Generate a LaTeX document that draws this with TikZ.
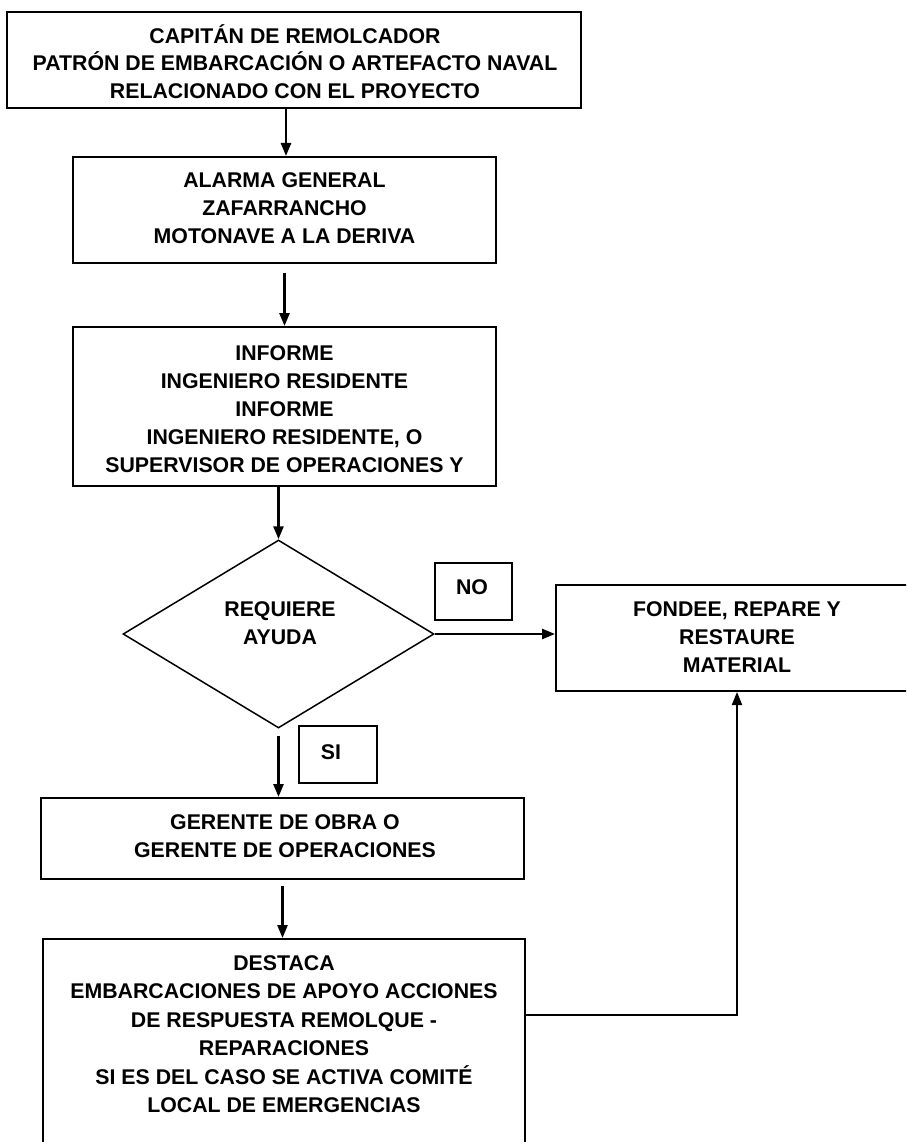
\documentclass[tikz,border=0pt]{standalone}
\usepackage{fontspec}
\setmainfont{Liberation Sans}
\usetikzlibrary{shapes.geometric,arrows.meta}
\tikzset{
  box/.style={draw=black,line width=2pt,rectangle,inner sep=0pt},
  tag/.style={draw=black,line width=1.8pt,rectangle,inner sep=0pt,minimum width=77pt,minimum height=57pt},
  txt/.style={align=center,inner sep=0pt,font=\bfseries\fontsize{21.3}{28}\selectfont},
  arr/.style={line width=2.6pt,-{Triangle[length=13pt,width=10pt]}},
  fline/.style={line width=2pt,-{Triangle[length=13pt,width=10pt]}}
}
\begin{document}
\begin{tikzpicture}[x=1pt,y=-1pt]
\path[use as bounding box,clip] (0,0) rectangle (906,1142);
\fill[white] (0,0) rectangle (906,1142);
% boxes
\node[box,minimum width=574pt,minimum height=96pt] (b1) at (294,60) {};
\node[txt,font=\bfseries\fontsize{21.3}{27.5}\selectfont] (t1) at (295,61.5) {CAPITÁN DE REMOLCADOR\\PATRÓN DE EMBARCACIÓN O ARTEFACTO NAVAL\\RELACIONADO CON EL PROYECTO};
\node[box,minimum width=423pt,minimum height=106pt] (b2) at (284.5,210) {};
\node[txt] (t2) at (284.5,208) {ALARMA GENERAL\\ZAFARRANCHO\\MOTONAVE A LA DERIVA};
\node[box,minimum width=423pt,minimum height=159pt] (b3) at (284.5,406.5) {};
\node[txt] (t3) at (284.5,409) {INFORME\\INGENIERO RESIDENTE\\INFORME\\INGENIERO RESIDENTE, O\\SUPERVISOR DE OPERACIONES Y};
\node[draw=black,line width=1.5pt,diamond,minimum width=311pt,minimum height=188pt,inner sep=0pt] (dia) at (278.5,634) {};
\node[txt] (td) at (280,623.5) {REQUIERE\\AYUDA};
\node[tag] (no) at (473.5,591.5) {};
\node[txt] (tno) at (472,587) {NO};
\node[box,minimum width=362pt,minimum height=106pt] (fon) at (737,638) {};
\node[txt] (tfon) at (737,637) {FONDEE, REPARE Y\\RESTAURE\\MATERIAL};
\node[tag,minimum width=78pt] (si) at (338,754.5) {};
\node[txt] (tsi) at (331,752) {SI};
\node[box,minimum width=483pt,minimum height=81pt] (ger) at (282.5,838.5) {};
\node[txt] (tger) at (285,836.5) {GERENTE DE OBRA O\\GERENTE DE OPERACIONES};
\node[box,minimum width=482pt,minimum height=220pt] (des) at (284,1049) {};
\node[txt,font=\bfseries\fontsize{21.3}{28.5}\selectfont] (tdes) at (284,1034) {DESTACA\\EMBARCACIONES DE APOYO ACCIONES\\DE RESPUESTA REMOLQUE -\\REPARACIONES\\SI ES DEL CASO SE ACTIVA COMITÉ\\LOCAL DE EMERGENCIAS};
% connectors
\draw[arr] (b1.south -| 286,0) -- (b2.north -| 286,0);
\draw[arr] ([yshift=-9pt]b2.south) -- (b3.north);
\draw[arr] (b3.south -| dia.north) -- (dia.north);
\draw[arr] (dia.east) -- (dia.east -| fon.west);
\draw[arr] ([yshift=-7pt]dia.south) -- (dia.south |- ger.north);
\draw[arr] ([yshift=-6pt]ger.south) -- (ger.south |- des.north);
\coordinate (j) at (737,1015);
\draw[fline] (des.east |- j) -- (j) -- (fon.south);
\end{tikzpicture}
\end{document}
